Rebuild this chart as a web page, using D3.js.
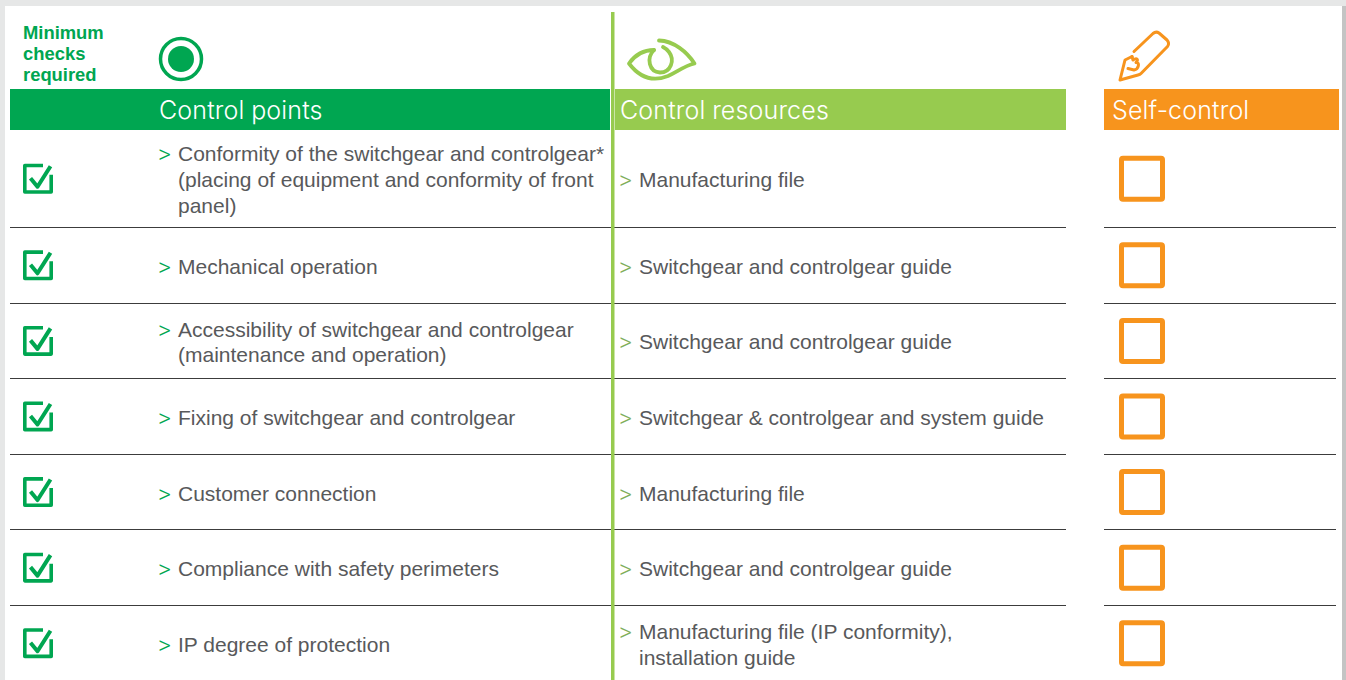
<!DOCTYPE html>
<html>
<head>
<meta charset="utf-8">
<script src="https://cdn.jsdelivr.net/npm/d3@7"></script>
<style>
  html, body { margin: 0; padding: 0; background: #e6e7e7; overflow: hidden; }
  svg { display: block; }
  .body-text { font-family: "Liberation Sans", sans-serif; font-size: 21px; fill: #58595b; }
  .arrow-text { font-family: Roboto, sans-serif; font-size: 25px; font-weight: 300; }
  .head-text { font-family: Inter, sans-serif; font-size: 25px; font-weight: 300; fill: #fff; word-spacing: -0.5px; letter-spacing: 0.15px; }
  .min-text { font-family: "Liberation Sans", sans-serif; font-size: 18.4px; font-weight: bold; fill: #00a651; }
</style>
</head>
<body>
<svg id="chart" width="1346" height="680"></svg>
<script>
const minimumLabel = ["Minimum", "checks", "required"];
const headers = ["Control points", "Control resources", "Self-control"];
const controlPoints = [
  ["Conformity of the switchgear and controlgear*", "(placing of equipment and conformity of front", "panel)"],
  ["Mechanical operation"],
  ["Accessibility of switchgear and controlgear", "(maintenance and operation)"],
  ["Fixing of switchgear and controlgear"],
  ["Customer connection"],
  ["Compliance with safety perimeters"],
  ["IP degree of protection"]
];
const controlResources = [
  ["Manufacturing file"],
  ["Switchgear and controlgear guide"],
  ["Switchgear and controlgear guide"],
  ["Switchgear & controlgear and system guide"],
  ["Manufacturing file"],
  ["Switchgear and controlgear guide"],
  ["Manufacturing file (IP conformity),", "installation guide"]
];

const GREEN = "#00a651", LIME = "#97cb4f", ORANGE = "#f7941d";
const svg = d3.select("#chart");

// white page on the grey backdrop
svg.append("rect").attr("x", 5).attr("y", 6).attr("width", 1337).attr("height", 674).attr("fill", "#fff");
svg.append("rect").attr("x", 1342).attr("y", 6).attr("width", 4).attr("height", 674).attr("fill", "#c4c4c4");

// row boundaries: the first row is taller, the rest are even
const rowBottom = d3.scaleLinear().domain([1, 7]).range([227.5, 681]);
const rowTop = i => i === 0 ? 130 : rowBottom(i);
const rowMid = i => (rowTop(i) + rowBottom(i + 1)) / 2 + (i === 0 ? 0 : 1.5);
const rowIdx = d3.range(controlPoints.length);

// header bars
const bars = [
  { x0: 10, x1: 610, color: GREEN, tx: 159 },
  { x0: 615, x1: 1066, color: LIME, tx: 620 },
  { x0: 1104, x1: 1339, color: ORANGE, tx: 1112 }
];
svg.selectAll("rect.bar").data(bars).join("rect")
  .attr("class", "bar")
  .attr("x", d => d.x0).attr("y", 89)
  .attr("width", d => d.x1 - d.x0).attr("height", 41)
  .attr("fill", d => d.color);
svg.selectAll("text.head-text").data(headers).join("text")
  .attr("class", "head-text")
  .attr("x", (d, i) => bars[i].tx).attr("y", 118.5)
  .text(d => d);

// row separators
const seps = svg.append("g").attr("stroke", "#3c3c3c").attr("stroke-width", 1);
rowIdx.slice(0, -1).forEach(i => {
  const y = Math.floor(rowBottom(i + 1)) + 0.5;
  seps.append("line").attr("x1", 10).attr("x2", 1066).attr("y1", y).attr("y2", y);
  seps.append("line").attr("x1", 1104).attr("x2", 1336).attr("y1", y).attr("y2", y);
});

// vertical divider
svg.append("rect").attr("x", 611).attr("y", 12).attr("width", 3.5).attr("height", 668).attr("fill", LIME);

// "Minimum checks required"
svg.selectAll("text.min-text").data(minimumLabel).join("text")
  .attr("class", "min-text")
  .attr("x", 23).attr("y", (d, i) => 38.5 + i * 21)
  .text(d => d);

// header icons
svg.append("circle").attr("cx", 181).attr("cy", 59).attr("r", 20.5)
  .attr("fill", "none").attr("stroke", GREEN).attr("stroke-width", 3.5);
svg.append("circle").attr("cx", 181).attr("cy", 59).attr("r", 13).attr("fill", GREEN);

const eye = svg.append("g").attr("fill", "none").attr("stroke", LIME)
  .attr("stroke-width", 3.8).attr("stroke-linecap", "round").attr("stroke-linejoin", "round");
eye.append("path").attr("d", "M659,40.5 C674,41 687,52 694.5,63.5 C684,66 677,72 668,76 C653,82 640,78 629,63.5 C635,55 644,50 654,50");
eye.append("path").attr("d", "M654,50 C646,58 649,72 660,72.5 C671,72.5 675,60 669,52 C667,49.5 665,48 663,47");

const pencil = svg.append("g").attr("fill", "none").attr("stroke", ORANGE)
  .attr("stroke-width", 3).attr("stroke-linecap", "round").attr("stroke-linejoin", "round");
pencil.append("path").attr("d", "M1134,51.5 L1153,33.5 Q1156,31 1159,33 L1167,40 Q1170,43.5 1167.5,46.5 L1141,73.5 Q1140,74.5 1138,75 L1120,80 L1125,60 L1132,56.5");
pencil.append("path").attr("d", "M1132,56.5 L1133,60 C1137,57 1139,60 1136,62.5 C1140,62 1139,69 1134,70 L1128,68.5");

// body text rows
function textColumn(lines, x, arrowColor) {
  const g = svg.append("g").selectAll("g").data(lines).join("g");
  g.each(function(d, i) {
    const top = rowMid(i) + 7 - (d.length - 1) * 12.9 + (i === 0 ? 1 : -0.4);
    d3.select(this).append("text").attr("class", "arrow-text")
      .attr("x", x - 1).attr("y", top + 2.5).style("fill", arrowColor).text(">");
    d3.select(this).selectAll("text.line").data(d).join("text")
      .attr("class", "body-text line")
      .attr("x", x + 19).attr("y", (t, k) => top + 0.5 + k * 25.8)
      .text(t => t);
  });
}
textColumn(controlPoints, 159, GREEN);
textColumn(controlResources, 620, "#7fae5a");

// check boxes
const checks = svg.append("g").selectAll("g").data(rowIdx).join("g")
  .attr("transform", i => `translate(23,${rowMid(i) - 15 - (i === 0 ? 0 : 1.5)})`)
  .attr("fill", "none").attr("stroke", GREEN).attr("stroke-linejoin", "round");
checks.append("path").attr("stroke-width", 3.6)
  .attr("d", "M20,1.8 L1.8,1.8 L1.8,28.2 L28.2,28.2 L28.2,11");
checks.append("path").attr("stroke-width", 4)
  .attr("d", "M7.5,14.5 L14.5,23 L27.5,2.5");

// self-control boxes
svg.append("g").selectAll("rect").data(rowIdx).join("rect")
  .attr("x", 1121.5).attr("width", 41).attr("height", 41)
  .attr("y", i => rowMid(i) - 20.5 - (i === 0 ? 0 : 1.5))
  .attr("rx", 1.5)
  .attr("fill", "none").attr("stroke", ORANGE).attr("stroke-width", 5);
</script>
</body>
</html>
